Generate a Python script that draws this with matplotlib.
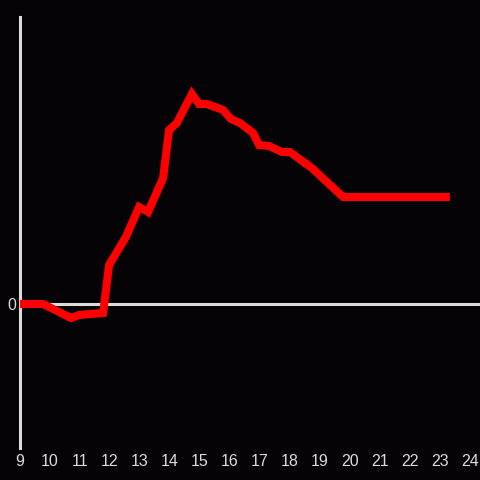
import numpy as np
from matplotlib import pyplot as plt

# hour of day vs value (zero line shown)
hours = [9.0, 9.77, 10.7, 10.97, 11.77, 11.97, 12.53, 12.97, 13.27, 13.77, 13.97,
         14.23, 14.73, 14.97, 15.23, 15.77, 16.03, 16.33, 16.77, 16.97, 17.3,
         17.73, 18.0, 18.27, 18.73, 19.23, 19.77, 19.97, 23.33]
values = [0.0, 0.0, -1.4, -1.1, -0.9, 3.9, 6.7, 9.7, 9.2, 12.6, 17.4,
          18.1, 21.0, 20.0, 20.0, 19.4, 18.5, 18.1, 17.1, 15.9, 15.8,
          15.2, 15.2, 14.6, 13.6, 12.2, 10.7, 10.7, 10.7]
xtick_vals = list(range(9, 25))

bg = "#050306"
axis_col = "#dcdcdc"

plt.rcParams["font.family"] = ["Liberation Sans", "DejaVu Sans"]

fig = plt.figure(figsize=(4.8, 4.8), dpi=100, facecolor=bg)
ax = fig.add_axes([20 / 480, 32 / 480, 460 / 480, 431 / 480], facecolor=bg)

ax.axhline(0, color=axis_col, lw=2.2, zorder=1)
ax.plot(hours, values, color="#ff0000", lw=5.8, solid_joinstyle="miter",
        solid_capstyle="butt", zorder=3)

ax.set_xlim(9, 9 + 460 / 30)
ax.set_ylim(-14.4, 28.7)

for s in ["top", "right", "bottom"]:
    ax.spines[s].set_visible(False)
ax.spines["left"].set_color(axis_col)
ax.spines["left"].set_linewidth(2.2)

ax.set_xticks(xtick_vals)
ax.set_xticklabels([str(h) for h in xtick_vals])
ax.set_yticks([0])
ax.set_yticklabels(["0"])
ax.tick_params(axis="both", length=0, colors=axis_col, labelsize=11.5)
ax.tick_params(axis="x", pad=4)
ax.tick_params(axis="y", pad=3)

plt.savefig("out.png", dpi=100, facecolor=bg)
